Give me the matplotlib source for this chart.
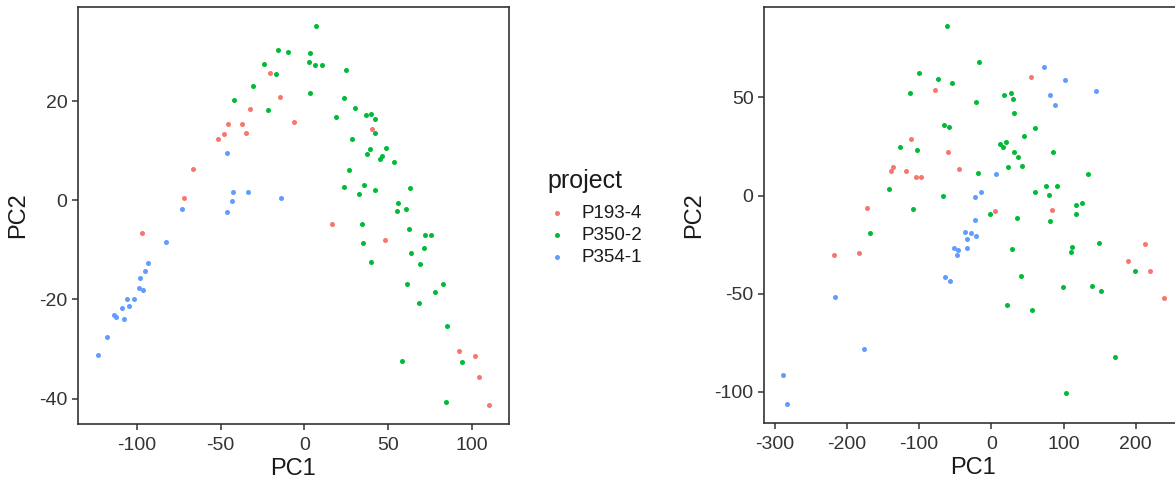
import numpy as np
import matplotlib
matplotlib.use('Agg')
import matplotlib.pyplot as plt

plt.rcParams['font.family'] = ['Liberation Sans', 'DejaVu Sans']
plt.rcParams['axes.unicode_minus'] = False

groups = ['P193-4', 'P350-2', 'P354-1']
colors = ['#F8766D', '#00BA38', '#619CFF']

# left panel
l_red_x = [-20.5, -14.3, -32.7, -45.4, -37.2, -47.8, -35.0, -51.5, -66.7, -72.1, -6.0, 40.2, 16.3,
           -96.9, 47.9, 92.1, 101.7, 103.9, 110.4]
l_red_y = [25.8, 20.8, 18.5, 15.5, 15.5, 13.4, 13.6, 12.3, 6.4, 0.4, 15.9, 14.4, -4.8,
           -6.5, -8.0, -30.4, -31.4, -35.7, -41.3]
l_grn_x = [-15.9, -9.6, -24.3, -16.9, -30.6, -42.2, -21.9, 7.0, 3.4, 3.0, 6.4, 10.3, 24.7, 3.4,
           23.7, 30.3, 18.7, 37.0, 39.8, 42.0, 42.4, 28.7, 48.5, 39.0, 37.4, 46.4, 45.4, 53.6,
           26.9, 23.5, 35.8, 42.0, 32.4, 63.1, 55.9, 55.3, 60.9, 34.2, 62.5, 71.8, 75.4, 34.8,
           71.2, 63.7, 39.8, 68.7, 61.5, 82.6, 78.2, 68.1, 85.0, 58.1, 94.3, 84.4]
l_grn_y = [30.3, 29.9, 27.5, 25.6, 23.0, 20.2, 18.3, 35.2, 29.7, 28.0, 27.3, 27.3, 26.4, 21.7,
           20.7, 18.6, 16.8, 17.3, 17.5, 16.4, 13.6, 12.3, 10.6, 10.4, 9.3, 8.9, 8.3, 7.8,
           6.1, 2.7, 3.1, 2.1, 1.2, 2.5, -0.6, -2.2, -1.7, -4.8, -5.8, -7.0, -7.0, -8.5,
           -9.7, -10.7, -12.4, -12.9, -16.9, -16.9, -18.4, -20.8, -25.4, -32.5, -32.7, -40.6]
l_blu_x = [-46.0, -42.8, -33.9, -43.4, -72.8, -46.0, -13.9, -82.4, -93.3, -94.9, -97.9, -98.5,
           -96.1, -105.7, -101.7, -109.1, -104.5, -113.4, -112.7, -107.9, -117.8, -123.4]
l_blu_y = [9.6, 1.6, 1.7, -0.1, -1.8, -2.4, 0.4, -8.4, -12.7, -14.2, -15.6, -17.6,
           -18.1, -19.8, -19.8, -21.7, -21.4, -23.1, -23.5, -24.0, -27.6, -31.2]

# right panel
r_red_x = [-78.7, -111.2, -60.7, -45.1, -139.3, -135.6, -118.9, -105.1, -97.3, -172.6, 55.2, 5.3,
           83.9, 213.2, -218.7, -182.7, 189.7, 219.7, 239.1]
r_red_y = [53.8, 28.7, 22.0, 13.6, 12.7, 14.4, 12.6, 9.3, 9.3, -6.4, 60.4, -7.8,
           -7.3, -24.8, -30.5, -29.2, -33.4, -38.2, -52.3]
r_grn_x = [-62.1, -100.9, -73.7, -54.3, -112.6, -65.4, -58.5, -126.8, -103.3, -142.5, -67.2, -108.8,
           -168.4, -16.9, 17.7, 26.6, 29.8, -21.9, 30.8, 60.7, 45.1, 11.8, 19.7, 16.4, 30.8, 37.2,
           85.3, 23.3, 42.7, -18.3, 133.3, 60.7, 75.1, 91.3, 80.1, -1.7, 35.8, 81.1, 117.6, 125.5,
           117.1, 28.0, 111.2, 110.6, 148.6, 41.3, 21.9, 55.7, 99.5, 139.3, 151.4, 198.9, 171.6, 103.3]
r_grn_y = [86.4, 62.2, 59.4, 57.5, 52.3, 35.8, 34.8, 24.8, 23.4, 3.4, -0.3, -6.8,
           -19.2, 68.0, 51.4, 52.3, 49.0, 47.7, 41.9, 34.5, 30.5, 26.3, 27.1, 24.9, 22.0, 19.7,
           22.0, 14.6, 14.9, 11.5, 11.2, 1.7, 5.1, 5.1, 0.2, -9.2, -11.5, -12.9, -4.9, -3.6,
           -9.2, -27.4, -26.1, -28.7, -24.4, -41.1, -55.6, -58.5, -46.7, -46.2, -48.5, -38.5, -82.1, -100.6]
r_blu_x = [72.4, 101.9, 81.1, 87.6, 144.4, 6.2, -14.1, -23.3, -22.5, -36.7, -28.4, -33.5,
           -21.9, -52.0, -46.0, -33.5, -47.8, -64.5, -57.9, -216.5, -175.8, -288.6, -283.5]
r_blu_y = [65.6, 59.0, 51.4, 46.2, 53.3, 11.2, 1.7, -0.7, -12.6, -18.7, -19.2, -22.0,
           -20.7, -26.6, -27.6, -26.8, -30.5, -41.4, -43.4, -51.9, -77.9, -91.6, -106.2]

left_xticks = [-100, -50, 0, 50, 100]
left_yticks = [-40, -20, 0, 20]
right_xticks = [-300, -200, -100, 0, 100, 200]
right_yticks = [-100, -50, 0, 50]

W, H = 1175, 484
fig = plt.figure(figsize=(W / 100, H / 100), dpi=100)

def px_box(x0, y0, x1, y1):
    return [x0 / W, 1 - y1 / H, (x1 - x0) / W, (y1 - y0) / H]

ax1 = fig.add_axes(px_box(78, 7, 509, 424))
ax2 = fig.add_axes(px_box(764, 7, 1183, 423))

def panel(ax, xs, ys, xt, yt):
    handles = []
    for x, y, c, g in zip(xs, ys, colors, groups):
        h = ax.scatter(x, y, s=13, c=c, linewidths=0, label=g, zorder=3)
        handles.append(h)
    allx = np.concatenate([np.array(v) for v in xs])
    ally = np.concatenate([np.array(v) for v in ys])
    rx = allx.max() - allx.min()
    ry = ally.max() - ally.min()
    ax.set_xlim(allx.min() - 0.05 * rx, allx.max() + 0.05 * rx)
    ax.set_ylim(ally.min() - 0.05 * ry, ally.max() + 0.05 * ry)
    ax.set_xticks(xt)
    ax.set_yticks(yt)
    ax.tick_params(length=4.5, width=1.1, color='#333333', labelsize=14,
                   labelcolor='#333333')
    ax.tick_params(axis='x', pad=5)
    ax.tick_params(axis='y', pad=3)
    for s in ax.spines.values():
        s.set_color('#333333')
        s.set_linewidth(1.2)
    ax.set_xlabel('PC1', fontsize=17, color='#1a1a1a', labelpad=3)
    ax.set_ylabel('PC2', fontsize=17, color='#1a1a1a', labelpad=7)
    return handles

hs = panel(ax1, [l_red_x, l_grn_x, l_blu_x], [l_red_y, l_grn_y, l_blu_y], left_xticks, left_yticks)
panel(ax2, [r_red_x, r_grn_x, r_blu_x], [r_red_y, r_grn_y, r_blu_y], right_xticks, right_yticks)

fig.text(547 / W, 1 - 181 / H, 'project', fontsize=18, color='#1a1a1a',
         ha='left', va='center')
leg = fig.legend(handles=hs, labels=groups, loc='upper left',
                 bbox_to_anchor=(547 / W, 1 - 205 / H), frameon=False,
                 fontsize=13.5, handlelength=1.05, handletextpad=0.8, labelspacing=0.25,
                 borderpad=0, borderaxespad=0, markerscale=1.0)
for t in leg.get_texts():
    t.set_color('#1a1a1a')

fig.savefig('out.png', dpi=100)
